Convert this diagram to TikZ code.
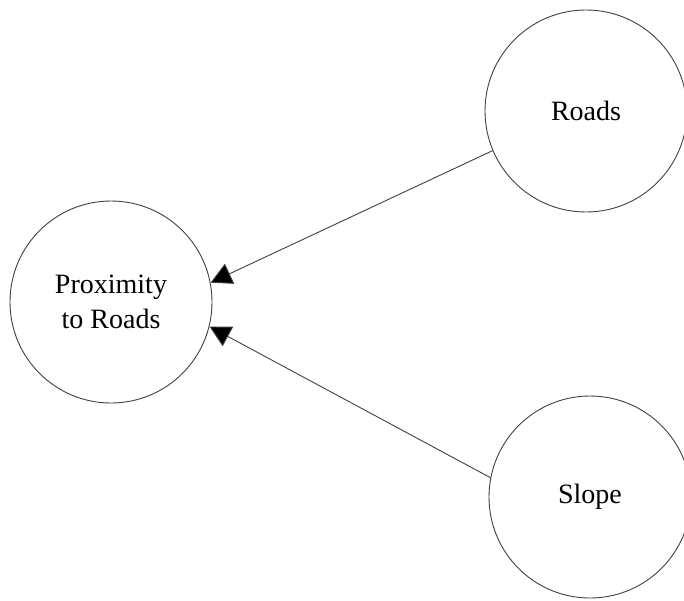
\documentclass[tikz,border=0pt]{standalone}
\usepackage{fontspec}
\setmainfont{Liberation Serif}
\usetikzlibrary{arrows.meta}
\begin{document}
\begin{tikzpicture}[x=1pt,y=-1pt,
  factor/.style={circle,draw=black!75,line width=0.9pt,minimum size=202pt,inner sep=0pt,align=center,
    font=\fontsize{28}{35}\selectfont},
  link/.style={draw=black!75,line width=0.9pt,-{Triangle[length=21pt,width=22pt,fill=black]}}]
\useasboundingbox (0,0) rectangle (684,600);
\node[factor] (prox) at (111,302) {Proximity\\to Roads};
\node[factor] (roads) at (586,111) {Roads};
\node[factor] (slope) at (590,497) {Slope};
\draw[link] (roads.203) -- (prox.11);
\draw[link] (slope.169) -- (prox.-14.6);
\end{tikzpicture}
\end{document}
